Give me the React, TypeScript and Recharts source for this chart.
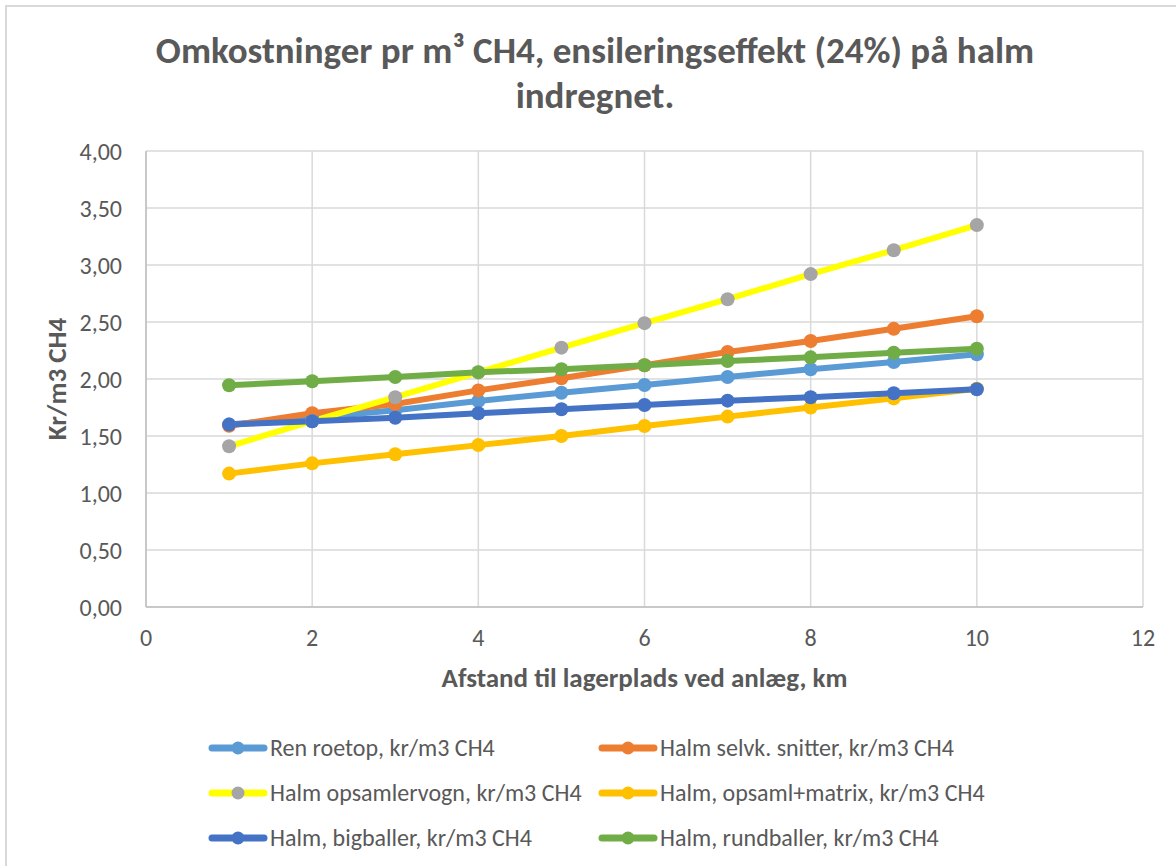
import React from 'react';
import { LineChart, Line, XAxis, YAxis, CartesianGrid, Legend } from 'recharts';

const distanceKm = [1, 2, 3, 4, 5, 6, 7, 8, 9, 10];
const renRoetop = [1.6, 1.66, 1.725, 1.807, 1.88, 1.947, 2.018, 2.085, 2.149, 2.217];
const halmSelvk = [1.59, 1.7, 1.78, 1.9, 2.006, 2.12, 2.237, 2.333, 2.44, 2.55];
const halmOpsamlervogn = [1.41, 1.63, 1.84, 2.058, 2.275, 2.49, 2.7, 2.92, 3.13, 3.35];
const halmMatrix = [1.17, 1.26, 1.34, 1.42, 1.5, 1.588, 1.67, 1.75, 1.83, 1.915];
const halmBigballer = [1.6, 1.63, 1.66, 1.7, 1.734, 1.772, 1.81, 1.84, 1.875, 1.91];
const halmRundballer = [1.945, 1.98, 2.017, 2.06, 2.085, 2.12, 2.158, 2.19, 2.23, 2.266];

const xTicks = [0, 2, 4, 6, 8, 10, 12];
const yTicks = [0, 0.5, 1, 1.5, 2, 2.5, 3, 3.5, 4];

const seriesNames = [
  'Ren roetop, kr/m3 CH4',
  'Halm selvk. snitter, kr/m3 CH4',
  'Halm opsamlervogn, kr/m3 CH4',
  'Halm, opsaml+matrix, kr/m3 CH4',
  'Halm, bigballer, kr/m3 CH4',
  'Halm, rundballer, kr/m3 CH4',
];
const seriesKeys = ['ren', 'selvk', 'vogn', 'matrix', 'big', 'rund'];
const lineColors = ['#5B9BD5', '#ED7D31', '#FFFF00', '#FFC000', '#4472C4', '#70AD47'];
const markerColors = ['#5B9BD5', '#ED7D31', '#A5A5A5', '#FFC000', '#4472C4', '#70AD47'];
const seriesValues = [renRoetop, halmSelvk, halmOpsamlervogn, halmMatrix, halmBigballer, halmRundballer];

const data = distanceKm.map((x, i) => {
  const row: Record<string, number> = { x };
  seriesKeys.forEach((k, s) => {
    row[k] = seriesValues[s][i];
  });
  return row;
});

const FONT = "Carlito, Lato, sans-serif";
const TEXT = '#595959';

const fmt = (v: number) => v.toFixed(2).replace('.', ',');

const LegendContent = (props: any) => {
  const payload = props.payload || [];
  const ordered = seriesKeys
    .map((k) => payload.find((p: any) => p.dataKey === k))
    .filter(Boolean);
  return (
    <div
      style={{
        display: 'grid',
        gridTemplateColumns: '390px 430px',
        fontFamily: FONT,
        fontSize: 24,
        color: TEXT,
      }}
    >
      {ordered.map((entry: any) => {
        const idx = seriesKeys.indexOf(entry.dataKey);
        return (
          <div key={entry.dataKey} style={{ display: 'flex', alignItems: 'center', height: 45 }}>
            <svg width={60} height={20} style={{ marginRight: 2, flex: 'none' }}>
              <line x1={4} y1={10} x2={56} y2={10} stroke={lineColors[idx]} strokeWidth={7} strokeLinecap="round" />
              <circle cx={30} cy={10} r={6.5} fill={markerColors[idx]} />
            </svg>
            <span style={{ whiteSpace: 'nowrap' }}>{entry.value}</span>
          </div>
        );
      })}
    </div>
  );
};

export default function App() {
  return (
    <div style={{ position: 'absolute', left: 0, top: 0, width: 1176, height: 866, background: '#fff', overflow: 'hidden' }}>
      <div
        style={{
          position: 'absolute',
          left: 5,
          top: 5,
          width: 1180,
          height: 870,
          border: '2px solid #d9d9d9',
          boxSizing: 'border-box',
        }}
      />
      <div
        style={{
          position: 'absolute',
          left: 0,
          top: 28,
          width: 1190,
          textAlign: 'center',
          fontFamily: FONT,
          fontWeight: 'bold',
          fontSize: 37,
          lineHeight: '45px',
          color: TEXT,
        }}
      >
        Omkostninger pr m³ CH4, ensileringseffekt (24%) på halm
        <br />
        indregnet.
      </div>
      <div style={{ position: 'absolute', left: 0, top: 0 }}>
        <LineChart
          width={1176}
          height={866}
          data={data}
          margin={{ top: 151, right: 33, bottom: 229, left: 0 }}
          style={{ fontFamily: FONT }}
        >
          <CartesianGrid stroke="#d9d9d9" strokeWidth={1.5} horizontalValues={yTicks} verticalValues={xTicks} />
          <XAxis
            dataKey="x"
            type="number"
            domain={[0, 12]}
            ticks={xTicks}
            height={30}
            tickLine={false}
            tickMargin={16}
            axisLine={{ stroke: '#bfbfbf', strokeWidth: 1.5 }}
            tick={{ fill: TEXT, fontSize: 24, fontFamily: FONT }}
            label={{
              value: 'Afstand til lagerplads ved anlæg, km',
              position: 'center',
              dy: 55,
              fill: TEXT,
              fontSize: 27,
              fontWeight: 'bold',
              fontFamily: FONT,
            }}
          />
          <YAxis
            type="number"
            domain={[0, 4]}
            ticks={yTicks}
            width={146}
            tickLine={false}
            tickMargin={18}
            tickFormatter={fmt}
            axisLine={{ stroke: '#bfbfbf', strokeWidth: 1.5 }}
            tick={{ fill: TEXT, fontSize: 24, fontFamily: FONT }}
            label={{
              value: 'Kr/m3 CH4',
              position: 'center',
              angle: -90,
              dx: -17,
              fill: TEXT,
              fontSize: 27,
              fontWeight: 'bold',
              fontFamily: FONT,
            }}
          />
          <Legend
            layout="horizontal"
            verticalAlign="middle"
            align="center"
            content={<LegendContent />}
            wrapperStyle={{ left: 208, top: 725, width: 860, height: 140 }}
          />
          {seriesKeys.map((k, i) => (
            <Line
              key={k}
              dataKey={k}
              name={seriesNames[i]}
              type="linear"
              stroke={lineColors[i]}
              strokeWidth={6}
              dot={{ r: 7, fill: markerColors[i], stroke: markerColors[i], strokeWidth: 0 }}
              activeDot={false}
              isAnimationActive={false}
            />
          ))}
        </LineChart>
      </div>
    </div>
  );
}
